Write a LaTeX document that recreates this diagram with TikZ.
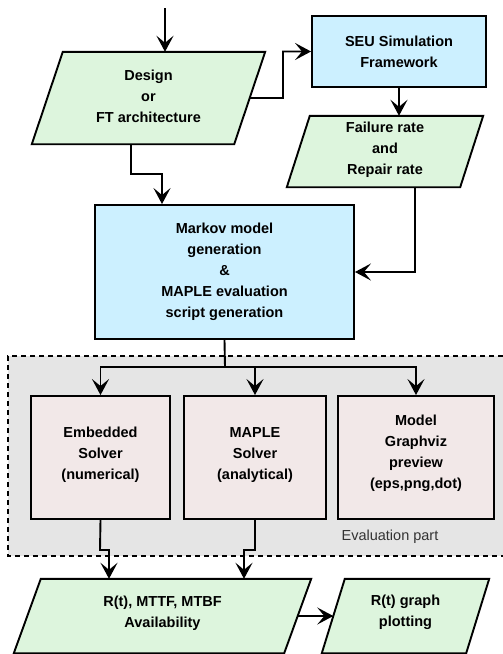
\documentclass[tikz,border=0pt]{standalone}
\usepackage{fontspec}
\setmainfont{Liberation Sans}
\usetikzlibrary{arrows.meta,calc}
\definecolor{gfill}{HTML}{DDF5DD}
\definecolor{bfill}{HTML}{CCF0FF}
\definecolor{pfill}{HTML}{F2E8E8}
\definecolor{efill}{HTML}{E5E5E5}
\tikzset{
  lbl/.style={font=\fontsize{14.5}{21}\selectfont\bfseries, align=center, inner sep=0pt},
  blk/.style={lbl, draw, rectangle, line width=1.9pt},
  bluebox/.style={blk, fill=bfill},
  pinkbox/.style={blk, fill=pfill},
  pbox/.style={lbl, rectangle},
  pshape/.style={draw, fill=gfill, line width=1.9pt, line join=miter},
  conn/.style={line width=1.9pt},
  arr/.style={conn, -{Stealth[length=16pt,width=17pt,inset=7pt]}},
  evregion/.style={draw, line width=1.9pt, dash pattern=on 5pt off 4pt},
}
\newcommand\paradraw[2]{%
  \draw[pshape] ([xshift=#2]#1.north west) -- (#1.north east) -- ([xshift=-#2]#1.south east) -- (#1.south west) -- cycle;}
\begin{document}
\begin{tikzpicture}[x=1pt,y=-1pt]
\useasboundingbox (0,0) rectangle (503,654);

% evaluation region
\fill[efill] (8,356) rectangle (503,556);
\draw[evregion] (503,356) -- (8,356) -- (8,556) -- (503,556);
\node[font=\fontsize{14.5}{17}\selectfont, text=black!80] (evlabel) at (390,537) {Evaluation part};

% design
\node[pbox, minimum width=233pt, minimum height=92pt] (design) at (148.5,98) {};
\paradraw{design}{31pt}
\node[lbl] at (148.5,96) {Design\\or\\FT architecture};

% SEU
\node[bluebox, minimum width=174pt, minimum height=71pt] (seu) at (399,51.5) {SEU Simulation\\Framework};

% failure
\node[pbox, minimum width=196pt, minimum height=71pt] (failure) at (385,151.5) {};
\paradraw{failure}{23pt}
\node[lbl] at (385,150) {Failure rate\\and\\Repair rate};

% Markov
\node[bluebox, minimum width=259pt, minimum height=134pt] (markov) at (224.5,272) {Markov model\\generation\\\&\\MAPLE evaluation\\script generation};

% solvers
\node[pinkbox, minimum width=139pt, minimum height=123pt] (emb) at (100.5,457.5) {};
\node[lbl] at (100.5,455) {Embedded\\Solver\\(numerical)};
\node[pinkbox, minimum width=142pt, minimum height=123pt] (maple) at (255,457.5) {};
\node[lbl] at (255,455) {MAPLE\\Solver\\(analytical)};
\node[pinkbox, minimum width=156pt, minimum height=123pt] (gviz) at (416,457.5) {};
\node[lbl] at (416,453) {Model\\Graphviz\\preview\\(eps,png,dot)};

% results
\node[pbox, minimum width=297pt, minimum height=74pt] (result) at (162.5,616) {};
\paradraw{result}{27pt}
\node[lbl] at (162.5,613) {R(t), MTTF, MTBF\\Availability};
\node[pbox, minimum width=167pt, minimum height=74pt] (plot) at (405.5,616) {};
\paradraw{plot}{23pt}
\node[lbl] at (405.5,612) {R(t) graph\\plotting};

% helper coordinates
\coordinate (start) at (165,8);
\coordinate (designE) at ($(design.north east)!.5!([xshift=-31pt]design.south east)$);
\coordinate (k2) at (283,98);
\coordinate (k3) at (131,174);
\coordinate (k4) at (162,174);
\coordinate (k5) at (415,0);
\coordinate (split) at (225,367);
\coordinate (j1) at (100,550);
\coordinate (j1b) at (109,550);
\coordinate (j2) at (255,550);
\coordinate (j2b) at (244,550);
\coordinate (resultE) at ($(result.north east)!.5!([xshift=-27pt]result.south east)$);
\coordinate (plotW) at ($([xshift=23pt]plot.north west)!.5!(plot.south west)$);

% connectors
\draw[arr] (start) -- (start |- design.north);
\draw[arr] (designE) -- (k2) |- (seu.west);
\draw[arr] (k3 |- design.south) -- (k3) -- (k4) -- (k4 |- markov.north);
\draw[arr] (seu.south) -- (seu.south |- failure.north);
\draw[arr] (k5 |- failure.south) |- (markov.east);
\draw[conn] (markov.south) -- (split);
\draw[arr] (split) -| (emb.north);
\draw[arr] (split) -| (maple.north);
\draw[arr] (split) -| (gviz.north);
\draw[arr] (emb.south) -- (j1) -- (j1b) -- (j1b |- result.north);
\draw[arr] (maple.south) -- (j2) -- (j2b) -- (j2b |- result.north);
\draw[arr] (resultE) -- (plotW);
\end{tikzpicture}
\end{document}
